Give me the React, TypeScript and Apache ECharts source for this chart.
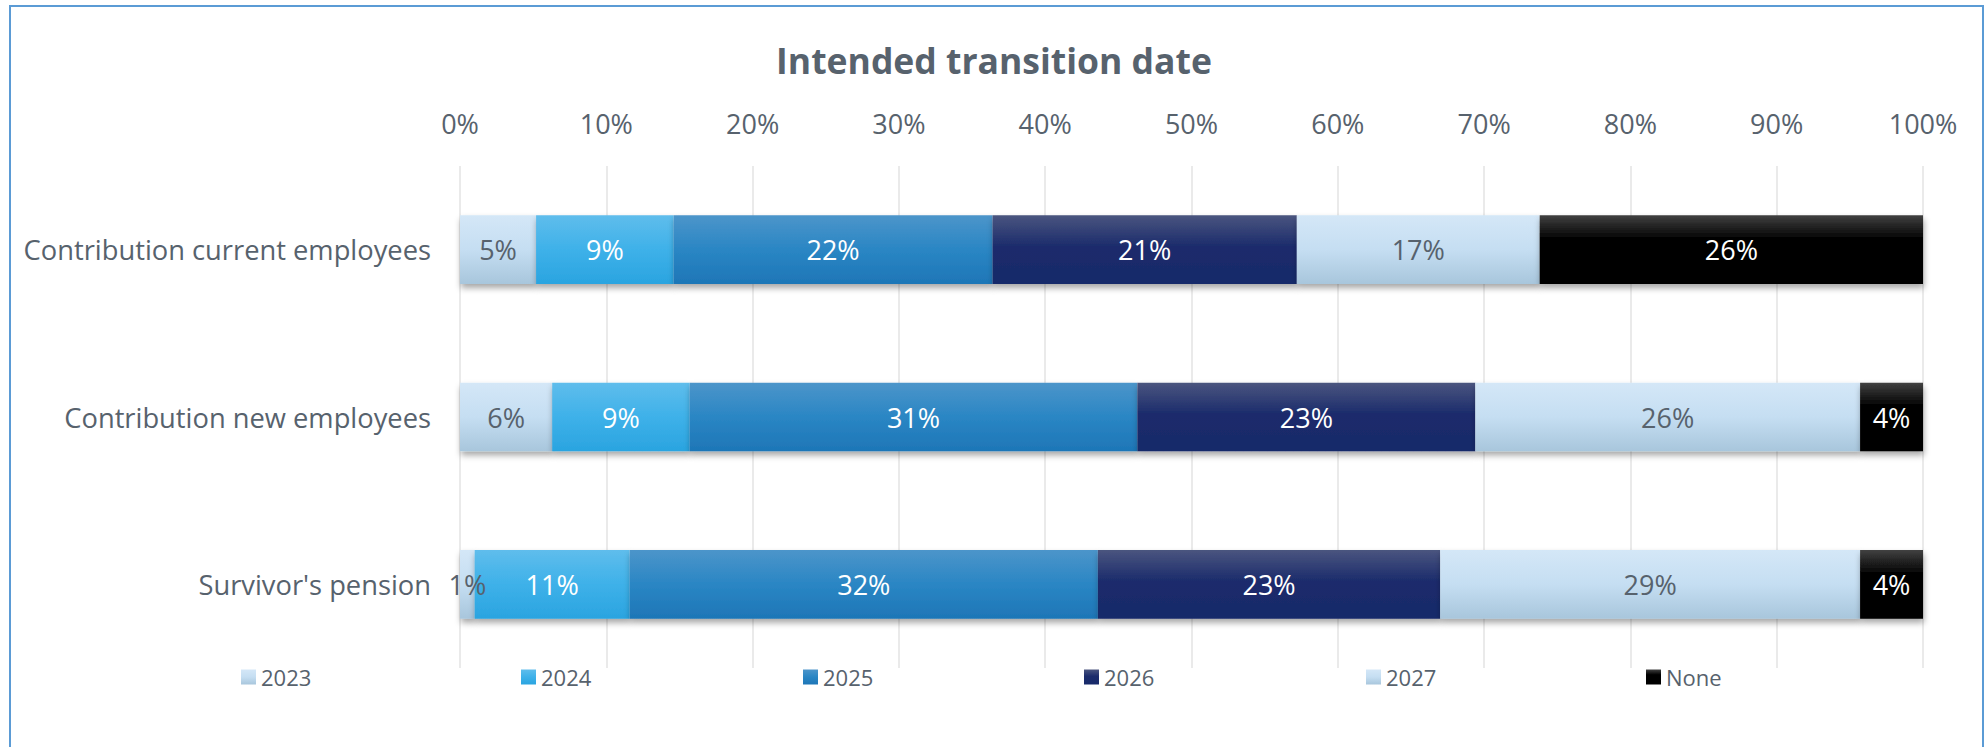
import React, { useEffect, useRef } from "react";
import * as echarts from "echarts";

const categories = [
  "Contribution current employees",
  "Contribution new employees",
  "Survivor's pension",
];
const seriesNames = ["2023", "2024", "2025", "2026", "2027", "None"];
const v2023 = [5.2, 6.3, 1.0];
const v2024 = [9.4, 9.4, 10.6];
const v2025 = [21.8, 30.6, 32.0];
const v2026 = [20.8, 23.1, 23.4];
const v2027 = [16.6, 26.3, 28.7];
const vNone = [26.2, 4.3, 4.3];
const xTicks = [0, 10, 20, 30, 40, 50, 60, 70, 80, 90, 100];

const FONT = "'Open Sans', 'Noto Sans', sans-serif";
const GRAY = "#57626d";

const grad = (stops: [number, string][]) =>
  new echarts.graphic.LinearGradient(
    0,
    0,
    0,
    1,
    stops.map(([offset, color]) => ({ offset, color }))
  );

const light = () =>
  grad([
    [0, "#d4e7f7"],
    [0.5, "#c5def2"],
    [1, "#a8c6dc"],
  ]);

const styles = [
  { color: light(), label: GRAY },
  {
    color: grad([
      [0, "#5fbdec"],
      [0.5, "#3eb1e9"],
      [1, "#2aa4e0"],
    ]),
    label: "#ffffff",
  },
  {
    color: grad([
      [0, "#4c95ca"],
      [0.5, "#2a86c4"],
      [1, "#1e76b7"],
    ]),
    label: "#ffffff",
  },
  {
    color: grad([
      [0, "#4a557f"],
      [0.45, "#1c2c6c"],
      [1, "#172a6a"],
    ]),
    label: "#ffffff",
  },
  { color: light(), label: GRAY },
  {
    color: grad([
      [0, "#414141"],
      [0.35, "#000000"],
      [1, "#000000"],
    ]),
    label: "#ffffff",
  },
];

const values = [v2023, v2024, v2025, v2026, v2027, vNone];
const legendLefts = [236, 516, 798, 1079, 1361, 1641];

export default function App() {
  const ref = useRef<HTMLDivElement>(null);
  useEffect(() => {
    if (!ref.current) return;
    const chart = echarts.init(ref.current, undefined, { renderer: "svg" });
    const option: any = {
      animation: false,
      backgroundColor: "#ffffff",
      title: {
        text: "Intended transition date",
        left: "center",
        top: 37,
        textStyle: {
          fontFamily: FONT,
          fontSize: 35.5,
          fontWeight: "bold",
          color: GRAY,
        },
      },
      graphic: [
        {
          type: "rect",
          shape: { x: 10, y: 6, width: 1973, height: 800 },
          style: { fill: "none", stroke: "#5b9bd5", lineWidth: 2 },
          silent: true,
        },
      ],
      legend: seriesNames.map((name, i) => ({
        data: [name],
        left: legendLefts[i],
        top: 661,
        icon: "rect",
        itemWidth: 15,
        itemHeight: 15,
        itemStyle: { shadowBlur: 0, shadowOffsetY: 0, shadowColor: "rgba(0,0,0,0)" },
        textStyle: { fontFamily: FONT, fontSize: 22, color: GRAY },
        selectedMode: false,
      })),
      grid: { left: 460, top: 166, width: 1463, height: 502 },
      xAxis: {
        type: "value",
        position: "top",
        min: 0,
        max: 100,
        interval: 10,
        axisLine: { show: false },
        axisTick: { show: false },
        axisLabel: {
          formatter: (v: number) => (xTicks.includes(v) ? v + "%" : ""),
          fontFamily: FONT,
          fontSize: 27,
          color: GRAY,
          margin: 29,
        },
        splitLine: { lineStyle: { color: "#e3e3e3", width: 1.5 } },
      },
      yAxis: {
        type: "category",
        data: categories,
        inverse: true,
        axisLine: { show: false },
        axisTick: { show: false },
        axisLabel: {
          fontFamily: FONT,
          fontSize: 27.3,
          color: GRAY,
          margin: 29,
        },
      },
      series: seriesNames.map((name, i) => ({
        name,
        type: "bar",
        stack: "total",
        barWidth: "41%",
        data: values[i],
        itemStyle: {
          color: styles[i].color,
          shadowBlur: 6,
          shadowOffsetY: 4,
          shadowOffsetX: 1,
          shadowColor: "rgba(0,0,0,0.35)",
        },
        label: {
          show: true,
          position: "inside",
          formatter: (p: any) => Math.round(p.value) + "%",
          fontFamily: FONT,
          fontSize: 27,
          color: styles[i].label,
        },
      })),
    };
    chart.setOption(option);
    return () => chart.dispose();
  }, []);
  return (
    <div
      ref={ref}
      style={{ position: "absolute", left: 0, top: 0, width: 1988, height: 747 }}
    />
  );
}
